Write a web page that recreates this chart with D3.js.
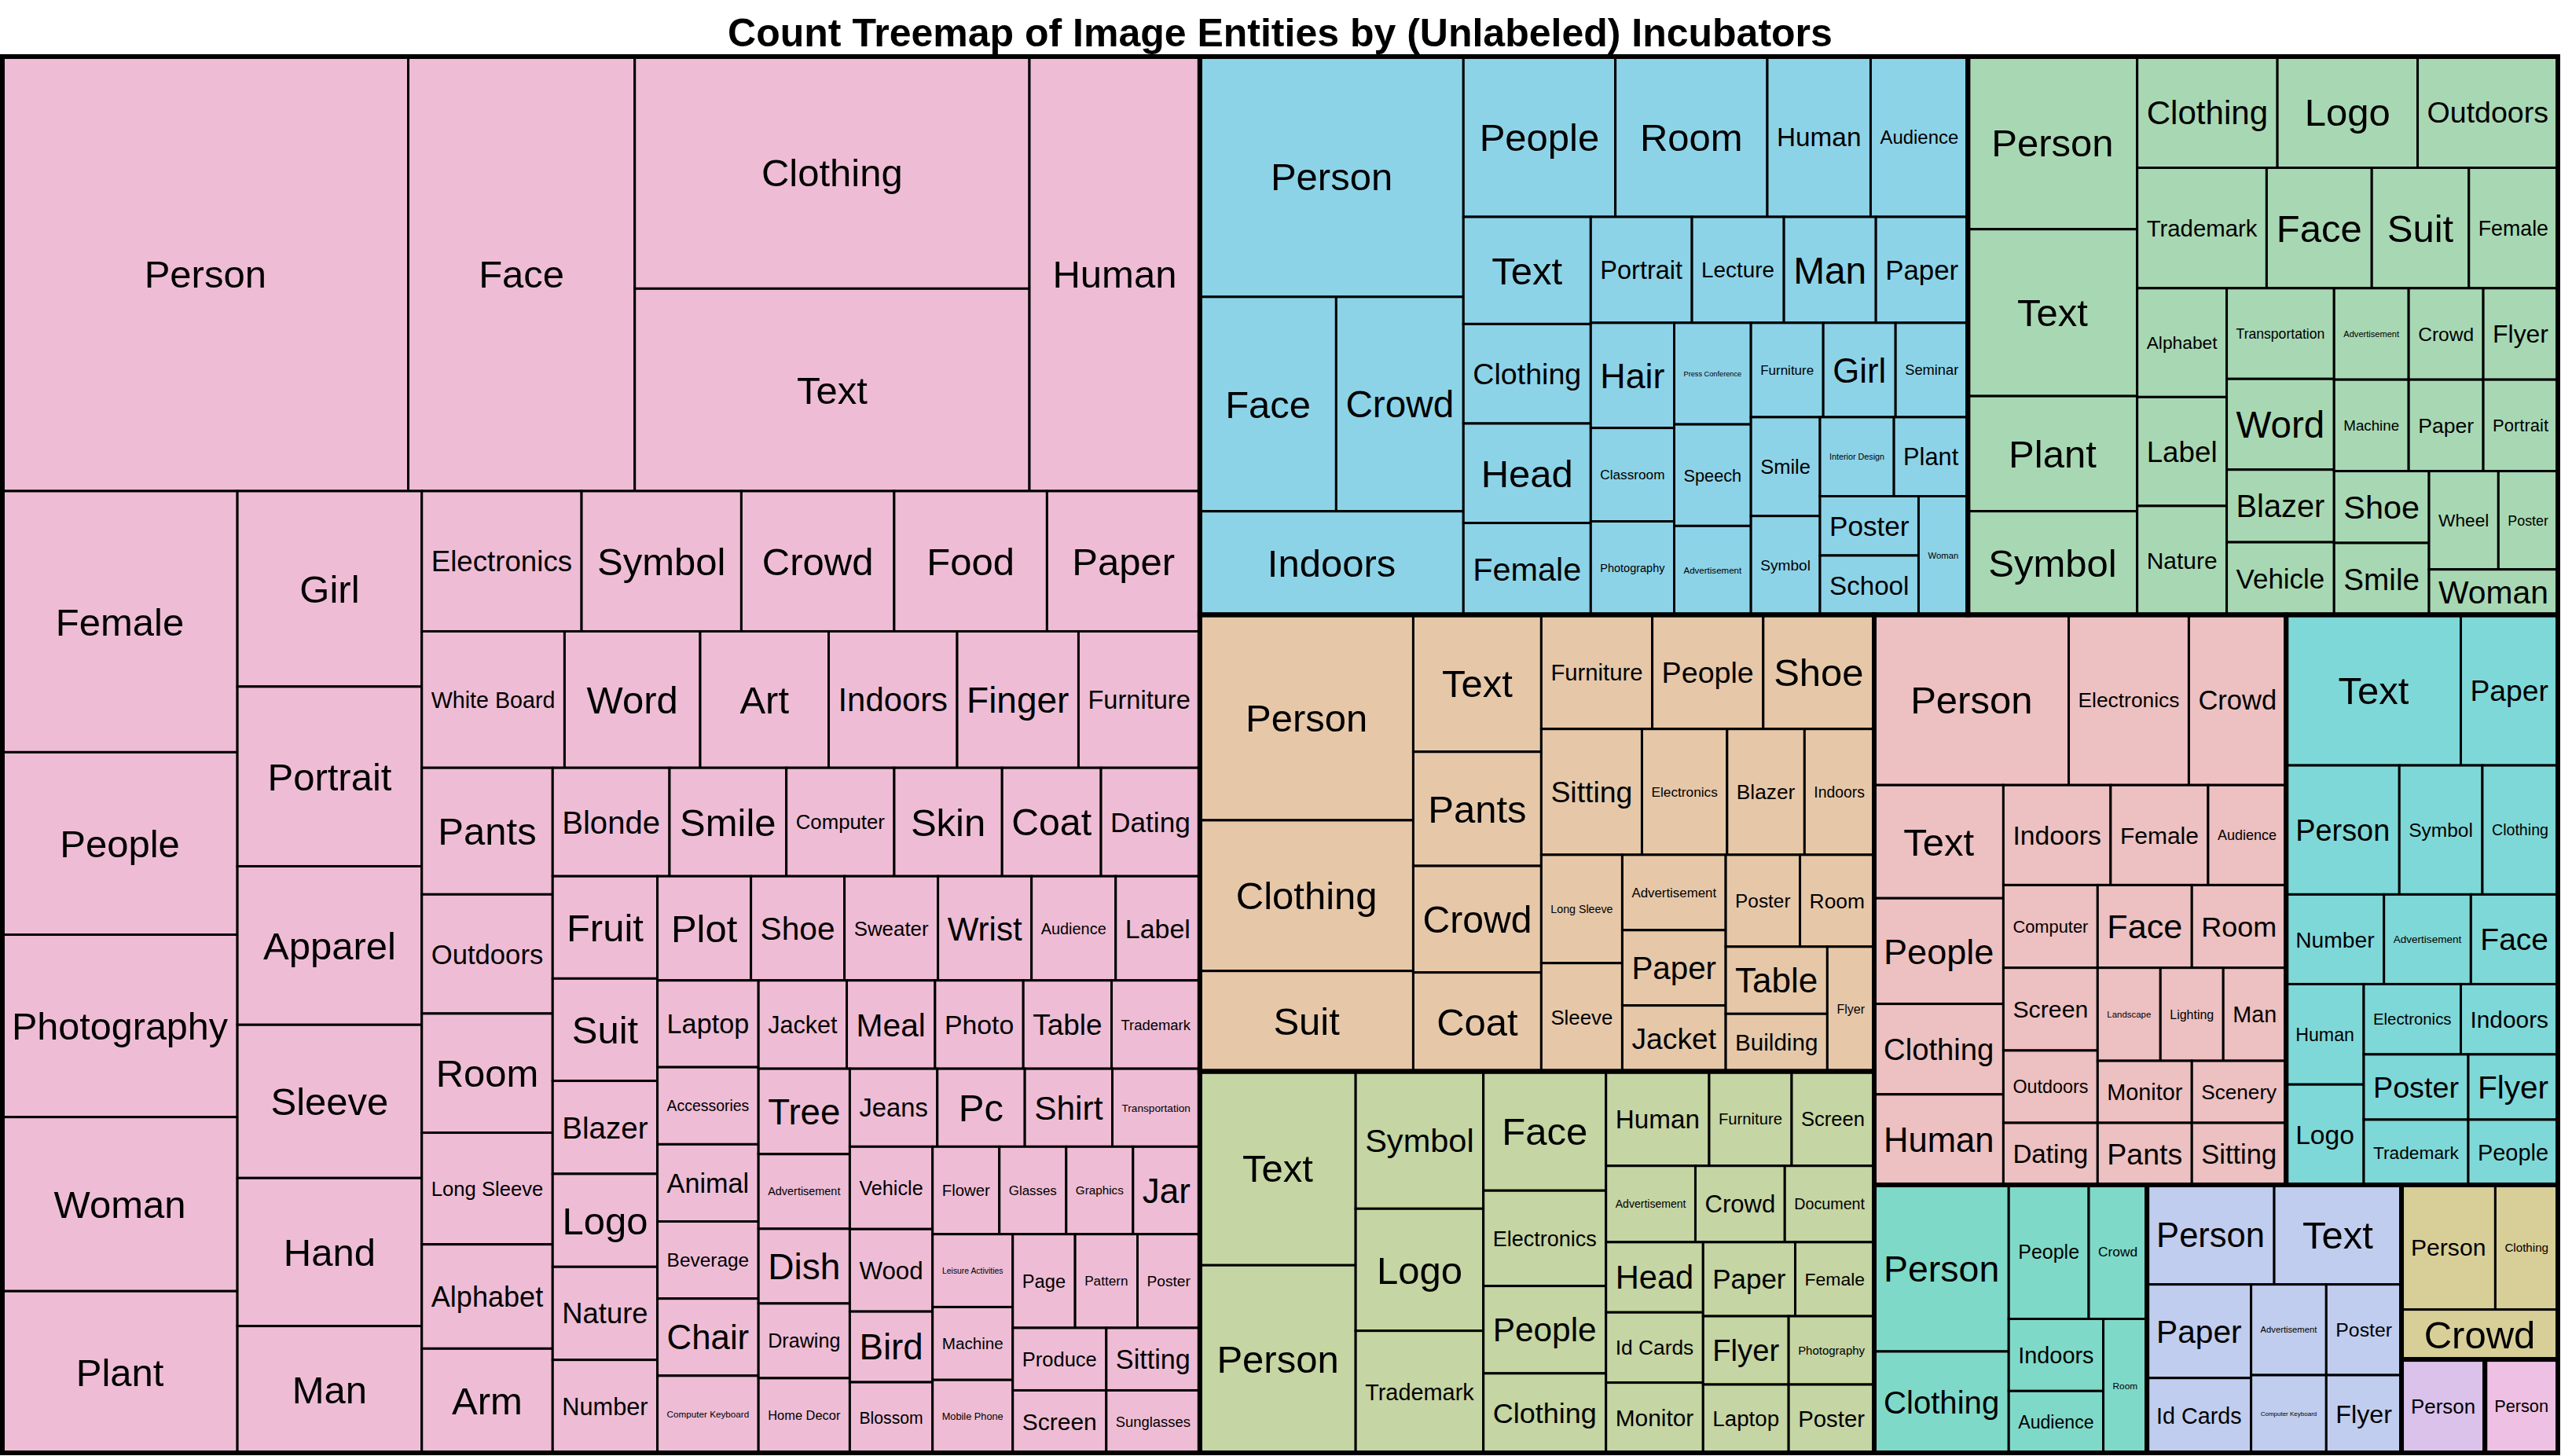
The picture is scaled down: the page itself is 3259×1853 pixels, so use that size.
<!DOCTYPE html>
<html>
<head>
<meta charset="utf-8">
<script src="https://cdn.jsdelivr.net/npm/d3@7"></script>
<style>
  html, body { margin: 0; padding: 0; background: #ffffff; }
  svg { display: block; }
</style>
</head>
<body>
<svg id="chart" width="3259" height="1853"></svg>
<script>
// ---------------- DATA ----------------
const chartTitle = "Count Treemap of Image Entities by (Unlabeled) Incubators";

const incubatorNames = ["Incubator A","Incubator B","Incubator C","Incubator D","Incubator E","Incubator F",
                        "Incubator G","Incubator H","Incubator I","Incubator J","Incubator K","Incubator L"];
const incubatorColors = ["#EEBDD5","#8DD3E8","#A8D8B3","#E6C8A9","#C5D5A3","#EDC0C1",
                         "#7FD8D8","#7FD9C8","#C0CDEE","#D8CF98","#DAC2EA","#EDC0E4"];

const incubatorAEntities = ["Person","Face","Clothing","Text","Human","Female","People","Photography","Woman","Plant",
  "Girl","Portrait","Apparel","Sleeve","Hand","Man","Electronics","Symbol","Crowd","Food","Paper","White Board","Word",
  "Art","Indoors","Finger","Furniture","Pants","Outdoors","Room","Long Sleeve","Alphabet","Arm","Blonde","Smile",
  "Computer","Skin","Coat","Dating","Fruit","Suit","Blazer","Logo","Nature","Number","Plot","Shoe","Sweater","Wrist",
  "Audience","Label","Laptop","Accessories","Animal","Beverage","Chair","Computer Keyboard","Jacket","Meal","Photo",
  "Table","Trademark","Tree","Advertisement","Dish","Drawing","Home Decor","Jeans","Pc","Shirt","Transportation",
  "Vehicle","Wood","Bird","Blossom","Flower","Glasses","Graphics","Jar","Leisure Activities","Machine","Mobile Phone",
  "Page","Pattern","Poster","Produce","Screen","Sitting","Sunglasses"];
const incubatorACounts = [181,101,94,82,76,63,44,44,42,39,
  37,34,30,29,28,24,23,23,22,22,22,20,19,
  18,18,17,17,17,16,16,15,14,14,13,13,
  12,12,11,11,11,11,10,10,10,10,10,10,10,10,
  9,9,9,8,8,8,8,8,8,8,8,
  8,8,8,7,7,7,7,7,7,7,7,
  7,7,6,6,6,6,6,6,6,6,6,
  6,6,6,6,6,6,6];

const incubatorBEntities = ["Person","Face","Crowd","Indoors","People","Room","Human","Audience","Text","Clothing",
  "Head","Female","Portrait","Lecture","Man","Paper","Hair","Classroom","Photography","Press Conference","Speech",
  "Advertisement","Furniture","Girl","Seminar","Smile","Symbol","Interior Design","Plant","Poster","School","Woman"];
const incubatorBCounts = [65,30,28,28,25,25,17,16,14,13,13,12,11,10,10,10,9,8,8,8,8,7,7,7,7,7,7,6,6,6,6,6];

const incubatorCEntities = ["Person","Text","Plant","Symbol","Clothing","Logo","Outdoors","Trademark","Face","Suit",
  "Female","Alphabet","Label","Nature","Transportation","Word","Blazer","Vehicle","Advertisement","Crowd","Flyer",
  "Machine","Paper","Portrait","Shoe","Smile","Wheel","Poster","Woman"];
const incubatorCCounts = [30,29,20,18,16,16,16,16,13,12,11,10,10,10,10,10,8,8,7,7,7,7,7,7,7,7,7,6,6];

const incubatorDEntities = ["Person","Clothing","Suit","Text","Pants","Crowd","Coat","Furniture","People","Shoe",
  "Sitting","Electronics","Blazer","Indoors","Long Sleeve","Sleeve","Advertisement","Paper","Jacket","Poster","Room",
  "Table","Building","Flyer"];
const incubatorDCounts = [45,33,22,18,15,14,13,13,13,13,13,11,10,9,9,9,8,8,7,7,7,7,6,6];

const incubatorEEntities = ["Text","Person","Symbol","Logo","Trademark","Face","Electronics","People","Clothing",
  "Human","Furniture","Screen","Advertisement","Crowd","Document","Head","Id Cards","Monitor","Paper","Female","Flyer",
  "Laptop","Photography","Poster"];
const incubatorECounts = [31,30,18,16,16,15,12,11,10,10,8,8,7,7,7,7,7,7,7,6,6,6,6,6];

const incubatorFEntities = ["Person","Electronics","Crowd","Text","People","Clothing","Human","Indoors","Female",
  "Audience","Computer","Face","Room","Screen","Outdoors","Dating","Landscape","Lighting","Man","Monitor","Pants",
  "Scenery","Sitting"];
const incubatorFCounts = [34,21,17,15,14,12,12,11,10,8,8,8,8,8,7,6,6,6,6,6,6,6,6];

const incubatorGEntities = ["Text","Paper","Person","Symbol","Clothing","Number","Advertisement","Face","Human","Logo",
  "Electronics","Indoors","Poster","Trademark","Flyer","People"];
const incubatorGCounts = [27,15,15,11,10,9,8,8,8,8,7,7,7,7,6,6];

const incubatorHEntities = ["Person","Clothing","People","Crowd","Indoors","Audience","Room"];
const incubatorHCounts = [23,14,11,8,7,6,6];

const incubatorIEntities = ["Person","Text","Paper","Id Cards","Advertisement","Poster","Computer Keyboard","Flyer"];
const incubatorICounts = [13,13,10,8,7,7,6,6];

const incubatorJEntities = ["Person","Clothing","Crowd"];
const incubatorJCounts = [12,8,8];

const incubatorKEntities = ["Person"];
const incubatorKCounts = [8];

const incubatorLEntities = ["Person"];
const incubatorLCounts = [7];

// ---------------- BUILD HIERARCHY ----------------
const entityLists = [incubatorAEntities,incubatorBEntities,incubatorCEntities,incubatorDEntities,incubatorEEntities,
  incubatorFEntities,incubatorGEntities,incubatorHEntities,incubatorIEntities,incubatorJEntities,incubatorKEntities,
  incubatorLEntities];
const countLists = [incubatorACounts,incubatorBCounts,incubatorCCounts,incubatorDCounts,incubatorECounts,
  incubatorFCounts,incubatorGCounts,incubatorHCounts,incubatorICounts,incubatorJCounts,incubatorKCounts,
  incubatorLCounts];

const rootData = {
  name: "root",
  children: incubatorNames.map((nm, gi) => ({
    name: nm, color: incubatorColors[gi],
    children: entityLists[gi].map((e, i) => ({ name: e, count: countLists[gi][i] }))
  }))
};

// ---------------- LAYOUT (pivot-by-size tiling) ----------------
const ASPECT_CORRECTION = 1.0186;

function place(nodes, i0, i1, x0, y0, x1, y1) {
  const n = i1 - i0;
  if (n <= 0) return;
  if (n === 1) {
    const d = nodes[i0]; d.x0 = x0; d.y0 = y0; d.x1 = x1; d.y1 = y1; return;
  }
  const w = x1 - x0, h = y1 - y0;
  let total = 0;
  for (let i = i0; i < i1; i++) total += nodes[i].value;
  const p = nodes[i0].value;
  const wide = w >= h;
  let bestK = 0, bestScore = Infinity, acc = p;
  for (let k = 0; k < n; k++) {
    if (k > 0) acc += nodes[i0 + k].value;
    let pw, ph;
    if (wide) { pw = acc / total * w; ph = p / acc * h; }
    else { ph = acc / total * h; pw = p / acc * w; }
    const score = Math.abs(Math.log(pw / ph * ASPECT_CORRECTION));
    if (score < bestScore) { bestScore = score; bestK = k; } else break;
  }
  let s = p;
  for (let k = 1; k <= bestK; k++) s += nodes[i0 + k].value;
  const piv = nodes[i0];
  if (wide) {
    const cw = s / total * w, ph = p / s * h;
    piv.x0 = x0; piv.y0 = y0; piv.x1 = x0 + cw; piv.y1 = y0 + ph;
    place(nodes, i0 + 1, i0 + 1 + bestK, x0, y0 + ph, x0 + cw, y1);
    place(nodes, i0 + 1 + bestK, i1, x0 + cw, y0, x1, y1);
  } else {
    const rh = s / total * h, pw = p / s * w;
    piv.x0 = x0; piv.y0 = y0; piv.x1 = x0 + pw; piv.y1 = y0 + rh;
    place(nodes, i0 + 1, i0 + 1 + bestK, x0 + pw, y0, x1, y0 + rh);
    place(nodes, i0 + 1 + bestK, i1, x0, y0 + rh, x1, y1);
  }
}
function pivotBySize(parent, x0, y0, x1, y1) {
  place(parent.children, 0, parent.children.length, x0, y0, x1, y1);
}

const plot = { x0: 3, y0: 72, x1: 3255, y1: 1849 };

const root = d3.hierarchy(rootData).sum(d => d.count || 0);
d3.treemap()
  .tile(pivotBySize)
  .size([plot.x1 - plot.x0, plot.y1 - plot.y0])
  .paddingInner(0).paddingOuter(0)
  (root);

// ---------------- DRAW ----------------
const svg = d3.select("#chart");
svg.append("rect").attr("width", 3259).attr("height", 1853).attr("fill", "#ffffff");

svg.append("text")
  .attr("x", 1629).attr("y", 59)
  .attr("text-anchor", "middle")
  .attr("font-family", "'Liberation Sans', Arial, Helvetica, sans-serif")
  .attr("font-weight", "bold")
  .attr("font-size", 50)
  .attr("fill", "#000")
  .text(chartTitle);

const g = svg.append("g").attr("transform", `translate(${plot.x0},${plot.y0})`);

const leaves = root.leaves();
g.selectAll("rect.leaf").data(leaves).join("rect")
  .attr("class", "leaf")
  .attr("x", d => d.x0).attr("y", d => d.y0)
  .attr("width", d => d.x1 - d.x0).attr("height", d => d.y1 - d.y0)
  .attr("fill", d => d.parent.data.color)
  .attr("stroke", "#000").attr("stroke-width", 3);

g.selectAll("rect.group").data(root.children).join("rect")
  .attr("class", "group")
  .attr("x", d => d.x0).attr("y", d => d.y0)
  .attr("width", d => d.x1 - d.x0).attr("height", d => d.y1 - d.y0)
  .attr("fill", "none")
  .attr("stroke", "#000").attr("stroke-width", 6);

const MAX_FONT = 49;
const ctx = document.createElement("canvas").getContext("2d");
ctx.font = `${MAX_FONT}px 'Liberation Sans', Arial, sans-serif`;

g.selectAll("text.lbl").data(leaves).join("text")
  .attr("class", "lbl")
  .each(function(d) {
    const w = d.x1 - d.x0, h = d.y1 - d.y0;
    const tw = ctx.measureText(d.data.name).width;
    let fs = Math.min(MAX_FONT, MAX_FONT * Math.max(w - 24, 4) / tw, 0.85 * h);
    d.fs = fs;
  })
  .attr("x", d => (d.x0 + d.x1) / 2)
  .attr("y", d => (d.y0 + d.y1) / 2 + 0.358 * d.fs)
  .attr("text-anchor", "middle")
  .attr("font-family", "'Liberation Sans', Arial, Helvetica, sans-serif")
  .attr("font-size", d => d.fs.toFixed(2))
  .attr("fill", "#000")
  .text(d => d.data.name);
</script>
</body>
</html>
